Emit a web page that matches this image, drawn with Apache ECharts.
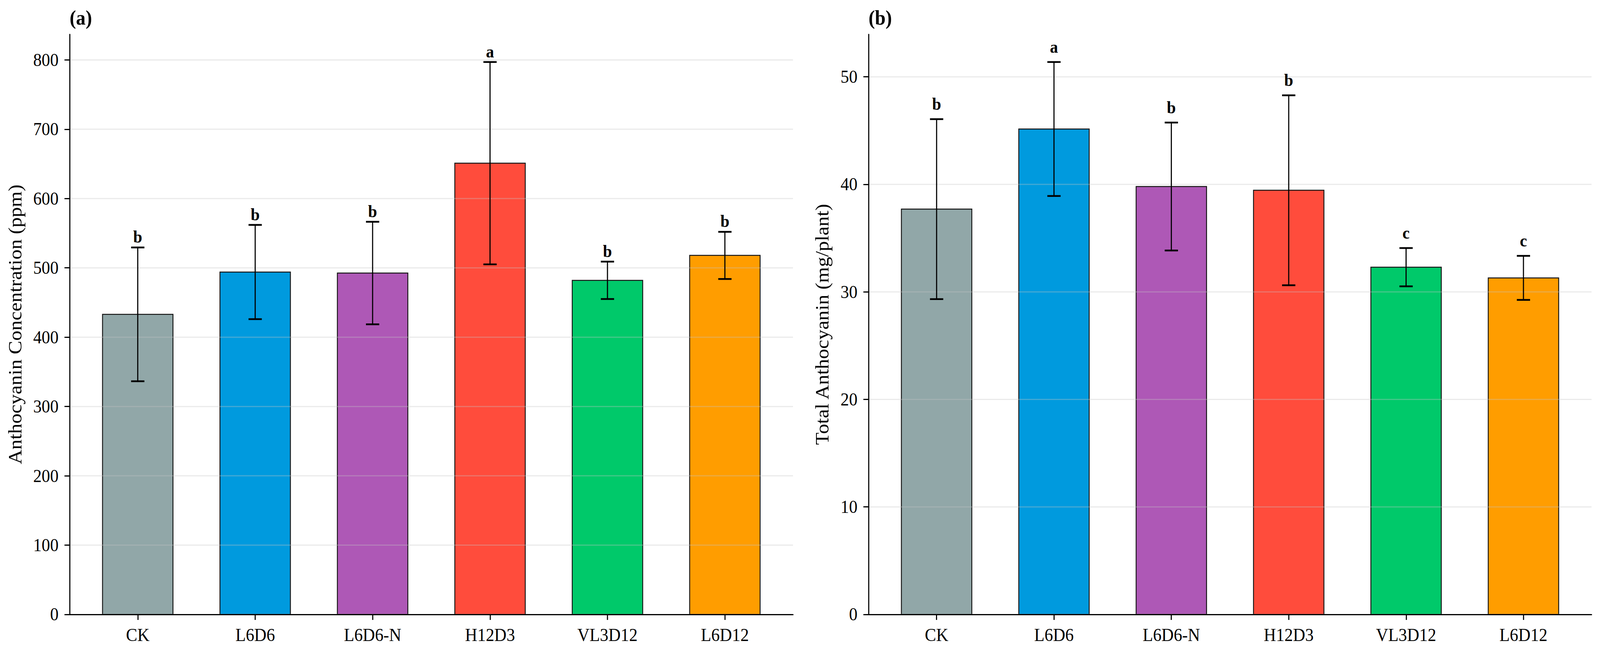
<!DOCTYPE html>
<html><head><meta charset="utf-8">
<script src="https://cdn.jsdelivr.net/npm/echarts@6/dist/echarts.min.js"></script>
<style>html,body{margin:0;padding:0;background:#fff;overflow:hidden}#c{width:4342px;height:1664px;transform-origin:0 0}</style>
</head><body><div id="c"></div>
<script>
// ---------- data ----------
const categories = ['CK', 'L6D6', 'L6D6-N', 'H12D3', 'VL3D12', 'L6D12'];
const concMean = [433, 494, 492.5, 651, 482, 518];
const concErr = [96.5, 68, 74, 146, 27, 34];
const concLetters = ['b', 'b', 'b', 'a', 'b', 'b'];
const concTicks = [0, 100, 200, 300, 400, 500, 600, 700, 800];
const totalMean = [37.7, 45.15, 39.8, 39.45, 32.3, 31.3];
const totalErr = [8.37, 6.23, 5.95, 8.83, 1.78, 2.05];
const totalLetters = ['b', 'a', 'b', 'b', 'c', 'c'];
const totalTicks = [0, 10, 20, 30, 40, 50];
const barColors = ['#91A7A8', '#009ADE', '#AE58B6', '#FF4C3C', '#00C96A', '#FF9D00'];

// ---------- style ----------
const FONT = 'Liberation Serif, Times New Roman, serif';
const BAR_HALF = 0.3;
const X_MIN = -0.58, X_MAX = categories.length - 1 + 0.58;
const catIdx = categories.map((c, i) => i);
const W = 4342, H = 1664;

// fit the 4342x1664 design into the actual viewport
const box = document.getElementById('c');
box.style.transform = 'scale(' + (window.innerWidth / W) + ',' + (window.innerHeight / H) + ')';

function yMaxOf(mean, err) {
  let m = 0;
  mean.forEach((v, i) => { m = Math.max(m, v + err[i]); });
  return m * 1.05;
}

function panel(gi, mean, err, letters, ticks, letterGap) {
  const barSeries = {
    type: 'custom', xAxisIndex: gi, yAxisIndex: gi, z: 2, silent: true,
    data: mean.map((v, i) => [i, v]),
    encode: { x: 0, y: 1 },
    renderItem: function (params, api) {
      const i = api.value(0), v = api.value(1);
      const tl = api.coord([i - BAR_HALF, v]);
      const br = api.coord([i + BAR_HALF, 0]);
      return {
        type: 'rect',
        shape: { x: tl[0], y: tl[1], width: br[0] - tl[0], height: br[1] - tl[1] },
        style: { fill: barColors[i], stroke: '#151515', lineWidth: 2.5 }
      };
    }
  };
  const gridSeries = {
    type: 'custom', xAxisIndex: gi, yAxisIndex: gi, z: 3, silent: true,
    data: ticks.map(t => [0, t]),
    encode: { x: 0, y: 1 },
    renderItem: function (params, api) {
      const t = api.value(1);
      const a = api.coord([X_MIN, t]);
      const b = api.coord([X_MAX, t]);
      return {
        type: 'line',
        shape: { x1: a[0], y1: a[1], x2: b[0], y2: b[1] },
        style: { stroke: 'rgba(195,195,195,0.35)', lineWidth: 3 }
      };
    }
  };
  const errSeries = {
    type: 'custom', xAxisIndex: gi, yAxisIndex: gi, z: 5, silent: true,
    data: mean.map((v, i) => [i, v, err[i]]),
    encode: { x: 0, y: 1 },
    renderItem: function (params, api) {
      const i = api.value(0), v = api.value(1), e = api.value(2);
      const top = api.coord([i, v + e]);
      const bot = api.coord([i, v - e]);
      const cap = 18;
      return {
        type: 'group',
        children: [
          { type: 'line', shape: { x1: top[0], y1: top[1], x2: bot[0], y2: bot[1] }, style: { stroke: '#000', lineWidth: 3 } },
          { type: 'line', shape: { x1: top[0] - cap, y1: top[1], x2: top[0] + cap, y2: top[1] }, style: { stroke: '#000', lineWidth: 4.5 } },
          { type: 'line', shape: { x1: bot[0] - cap, y1: bot[1], x2: bot[0] + cap, y2: bot[1] }, style: { stroke: '#000', lineWidth: 4.5 } },
          { type: 'text', x: top[0], y: top[1] - letterGap,
            style: { text: letters[i], fill: '#000', font: 'bold 44px ' + FONT, align: 'center', verticalAlign: 'bottom' } }
        ]
      };
    }
  };
  return [barSeries, gridSeries, errSeries];
}

function xAxis(gi) {
  return {
    type: 'value', gridIndex: gi, min: X_MIN, max: X_MAX, z: 10,
    axisLine: { show: true, onZero: false, lineStyle: { color: '#000', width: 3 } },
    axisTick: { show: true, customValues: catIdx, length: 14, lineStyle: { color: '#000', width: 3 } },
    axisLabel: { show: true, customValues: catIdx, margin: 30, color: '#000', fontSize: 46, fontFamily: FONT,
      formatter: v => categories[Math.round(v)] },
    splitLine: { show: false }
  };
}
function yAxis(gi, ticks, max, name, gap) {
  return {
    type: 'value', gridIndex: gi, min: 0, max: max, z: 10,
    name: name, nameLocation: 'middle', nameGap: gap, nameRotate: 90,
    nameTextStyle: { color: '#000', fontSize: 52, fontFamily: FONT },
    axisLine: { show: true, onZero: false, lineStyle: { color: '#000', width: 3 } },
    axisTick: { show: true, customValues: ticks, length: 14, lineStyle: { color: '#000', width: 3 } },
    axisLabel: { show: true, customValues: ticks, margin: 30, color: '#000', fontSize: 46, fontFamily: FONT },
    splitLine: { show: false }
  };
}

const chart = echarts.init(box, null, { renderer: 'svg', width: W, height: H });
chart.setOption({
  backgroundColor: '#fff',
  animation: false,
  grid: [
    { left: 189, right: W - 2152, top: 88, bottom: H - 1573 },
    { left: 2357, right: W - 4319, top: 88, bottom: H - 1573 }
  ],
  xAxis: [xAxis(0), xAxis(1)],
  yAxis: [
    yAxis(0, concTicks, yMaxOf(concMean, concErr), 'Anthocyanin Concentration (ppm)', 122),
    yAxis(1, totalTicks, yMaxOf(totalMean, totalErr), 'Total Anthocyanin (mg/plant)', 100)
  ],
  graphic: [
    { type: 'text', left: 189, top: 20, style: { text: '(a)', fill: '#000', font: 'bold 52px ' + FONT } },
    { type: 'text', left: 2357, top: 20, style: { text: '(b)', fill: '#000', font: 'bold 52px ' + FONT } }
  ],
  series: [].concat(
    panel(0, concMean, concErr, concLetters, concTicks, 5),
    panel(1, totalMean, totalErr, totalLetters, totalTicks, 17)
  )
});
</script></body></html>
